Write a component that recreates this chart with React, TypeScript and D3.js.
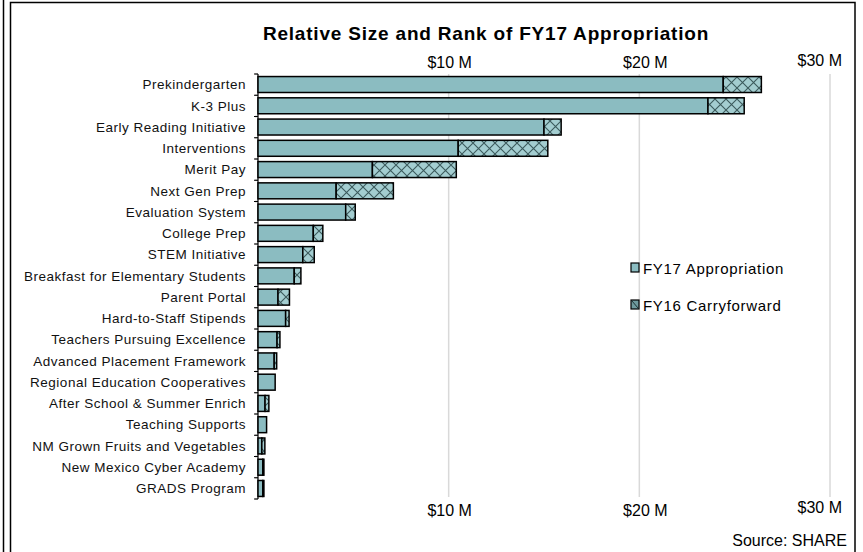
import React, { useEffect, useRef } from "react";
import * as d3 from "d3";

const categories = [
  "Prekindergarten",
  "K-3 Plus",
  "Early Reading Initiative",
  "Interventions",
  "Merit Pay",
  "Next Gen Prep",
  "Evaluation System",
  "College Prep",
  "STEM Initiative",
  "Breakfast for Elementary Students",
  "Parent Portal",
  "Hard-to-Staff Stipends",
  "Teachers Pursuing Excellence",
  "Advanced Placement Framework",
  "Regional Education Cooperatives",
  "After School & Summer Enrich",
  "Teaching Supports",
  "NM Grown Fruits and Vegetables",
  "New Mexico Cyber Academy",
  "GRADS Program",
];

// millions of dollars
const fy17Appropriation = [
  24.4, 23.6, 15.0, 10.5, 6.0, 4.1, 4.6, 2.9, 2.35, 1.9, 1.05, 1.45, 1.0, 0.85,
  0.9, 0.37, 0.45, 0.2, 0.25, 0.25,
];
const fy16Carryforward = [
  2.0, 1.9, 0.9, 4.7, 4.4, 3.0, 0.5, 0.5, 0.6, 0.35, 0.6, 0.18, 0.15, 0.13, 0,
  0.2, 0, 0.16, 0.06, 0.06,
];

const tickValues = [10, 20, 30];
const tickLabels = ["$10 M", "$20 M", "$30 M"];

const W = 863;
const H = 552;

const App: React.FC = () => {
  const svgRef = useRef<SVGSVGElement>(null);

  useEffect(() => {
    if (!svgRef.current) return;
    const svg = d3.select(svgRef.current);
    svg.selectAll("*").remove();

    const font = "'Liberation Sans', Arial, sans-serif";
    const fy17Fill = "#8bbcc1";

    // hatch pattern for carryforward
    const defs = svg.append("defs");
    const pat = defs
      .append("pattern")
      .attr("id", "cross")
      .attr("patternUnits", "userSpaceOnUse")
      .attr("width", 11)
      .attr("height", 11);
    pat.append("rect").attr("width", 11).attr("height", 11).attr("fill", "#a3cdd0");
    pat
      .append("path")
      .attr("d", "M0,0L11,11M11,0L0,11")
      .attr("stroke", "#3b5a5c")
      .attr("stroke-width", 1.1);

    // frames
    svg.append("rect").attr("width", W).attr("height", H).attr("fill", "#fff");
    svg
      .append("line")
      .attr("x1", 3.5)
      .attr("x2", 3.5)
      .attr("y1", 0)
      .attr("y2", H)
      .attr("stroke", "#000")
      .attr("stroke-width", 1.5);
    svg
      .append("rect")
      .attr("x", 10.5)
      .attr("y", 2.5)
      .attr("width", 844.5)
      .attr("height", H + 10)
      .attr("fill", "none")
      .attr("stroke", "#000")
      .attr("stroke-width", 1.5);

    const x = d3.scaleLinear().domain([0, 30]).range([258, 830]);
    const y = d3
      .scaleBand<string>()
      .domain(categories)
      .range([74, 499])
      .paddingInner(0.25)
      .paddingOuter(0.12);

    // gridlines
    svg
      .append("g")
      .selectAll("line")
      .data(tickValues)
      .enter()
      .append("line")
      .attr("x1", (d) => x(d))
      .attr("x2", (d) => x(d))
      .attr("y1", 74)
      .attr("y2", 497)
      .attr("stroke", "#d9d9d9")
      .attr("stroke-width", 1.5);

    // title
    svg
      .append("text")
      .attr("x", 486)
      .attr("y", 40)
      .attr("text-anchor", "middle")
      .attr("font-family", font)
      .attr("font-size", 19)
      .attr("font-weight", "bold")
      .attr("letter-spacing", 0.8)
      .text("Relative Size and Rank of FY17 Appropriation");

    // axis tick labels top and bottom
    const labelX = (i: number) => (i === 2 ? 842 : i === 1 ? x(tickValues[i]) + 6 : x(tickValues[i]) + 1);
    const anchor = (i: number) => (i === 2 ? "end" : "middle");
    [
      { yy: 68, y30: 66 },
      { yy: 516, y30: 513 },
    ].forEach((pos) => {
      svg
        .append("g")
        .selectAll("text")
        .data(tickLabels)
        .enter()
        .append("text")
        .attr("x", (_, i) => labelX(i))
        .attr("y", (_, i) => (i === 2 ? pos.y30 : pos.yy))
        .attr("text-anchor", (_, i) => anchor(i))
        .attr("font-family", font)
        .attr("font-size", 16)
        .attr("fill", "#000")
        .text((d) => d);
    });

    // left axis
    const axisG = svg.append("g");
    axisG
      .append("line")
      .attr("x1", 258)
      .attr("x2", 258)
      .attr("y1", 74)
      .attr("y2", 499)
      .attr("stroke", "#000")
      .attr("stroke-width", 1.2);
    const boundaries = d3.range(categories.length + 1).map((i) => 74 + (i * 425) / categories.length);
    axisG
      .selectAll("line.tick")
      .data(boundaries)
      .enter()
      .append("line")
      .attr("class", "tick")
      .attr("x1", 254)
      .attr("x2", 258)
      .attr("y1", (d) => d)
      .attr("y2", (d) => d)
      .attr("stroke", "#000")
      .attr("stroke-width", 1.2);

    // category labels
    svg
      .append("g")
      .selectAll("text")
      .data(categories)
      .enter()
      .append("text")
      .attr("x", 246)
      .attr("y", (d) => (y(d) || 0) + y.bandwidth() / 2)
      .attr("dy", "0.35em")
      .attr("text-anchor", "end")
      .attr("font-family", font)
      .attr("font-size", 13.5)
      .attr("letter-spacing", 0.5)
      .attr("fill", "#111")
      .text((d) => d);

    // bars
    const rows = categories.map((c, i) => ({
      c,
      a: fy17Appropriation[i],
      b: fy16Carryforward[i],
    }));
    const g = svg.append("g");
    g.selectAll("rect.fy17")
      .data(rows)
      .enter()
      .append("rect")
      .attr("class", "fy17")
      .attr("x", x(0))
      .attr("y", (d) => y(d.c) || 0)
      .attr("width", (d) => x(d.a) - x(0))
      .attr("height", y.bandwidth())
      .attr("fill", fy17Fill)
      .attr("stroke", "#000")
      .attr("stroke-width", 1.5);
    g.selectAll("rect.fy16")
      .data(rows.filter((d) => d.b > 0))
      .enter()
      .append("rect")
      .attr("class", "fy16")
      .attr("x", (d) => x(d.a))
      .attr("y", (d) => y(d.c) || 0)
      .attr("width", (d) => x(d.a + d.b) - x(d.a))
      .attr("height", y.bandwidth())
      .attr("fill", "url(#cross)")
      .attr("stroke", "#000")
      .attr("stroke-width", 1.5);

    // legend
    const legend = [
      { label: "FY17 Appropriation", fill: fy17Fill, yy: 268, hatch: false },
      { label: "FY16 Carryforward", fill: "#6f9a9d", yy: 305, hatch: true },
    ];
    const lg = svg.append("g");
    lg.selectAll("rect")
      .data(legend)
      .enter()
      .append("rect")
      .attr("x", 631)
      .attr("y", (d) => d.yy - 5)
      .attr("width", 8)
      .attr("height", 9)
      .attr("fill", (d) => d.fill)
      .attr("stroke", "#000")
      .attr("stroke-width", 1.2);
    lg.selectAll("line")
      .data(legend.filter((d) => d.hatch))
      .enter()
      .append("line")
      .attr("x1", 632)
      .attr("y1", (d) => d.yy - 4)
      .attr("x2", 638)
      .attr("y2", (d) => d.yy + 3)
      .attr("stroke", "#1f3335")
      .attr("stroke-width", 1);
    lg.selectAll("text")
      .data(legend)
      .enter()
      .append("text")
      .attr("x", 643)
      .attr("y", (d) => d.yy + 6)
      .attr("font-family", font)
      .attr("font-size", 15)
      .attr("letter-spacing", 0.7)
      .attr("fill", "#000")
      .text((d) => d.label);

    // source
    svg
      .append("text")
      .attr("x", 847)
      .attr("y", 546)
      .attr("text-anchor", "end")
      .attr("font-family", font)
      .attr("font-size", 16)
      .attr("fill", "#000")
      .text("Source: SHARE");
  }, []);

  return (
    <svg
      ref={svgRef}
      width={W}
      height={H}
      style={{ position: "absolute", left: 0, top: 0, display: "block" }}
    ></svg>
  );
};

export default App;
